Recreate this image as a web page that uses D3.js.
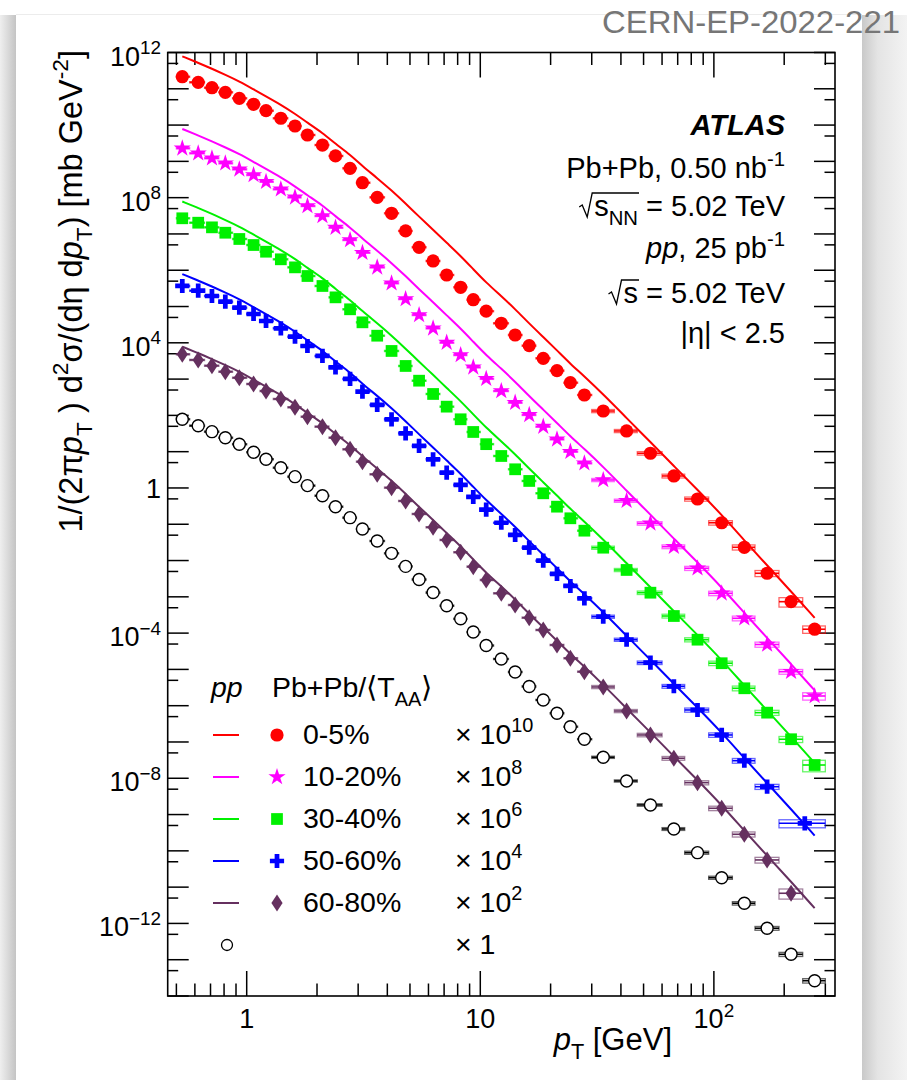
<!DOCTYPE html>
<meta charset="utf-8">

<!-- Load d3.js -->
<script src="https://d3js.org/d3.v7.min.js"></script>

<style>
  body { margin: 0; background: #ffffff; }
  svg { display: block; }
  text { font-family: "Liberation Sans", Arial, Helvetica, sans-serif; white-space: pre; }
</style>

<!-- Create a div where the graph will take place -->
<div id="my_dataviz"></div>

<script>

// pT bin centres and bin edges [GeV]
var ptCenters = [0.53, 0.62, 0.71, 0.81, 0.93, 1.07, 1.21, 1.40, 1.61, 1.82,
                 2.11, 2.40, 2.77, 3.13, 3.62, 4.17, 4.79, 5.47, 6.28, 7.18,
                 8.24, 9.33, 10.6, 12.3, 14.1, 16.2, 18.6, 21.3, 24.3, 27.9,
                 33.6, 42.3, 53.5, 67.4, 85.1, 108, 135, 169, 214, 270];
var binEdges = [0.5, 0.57, 0.66, 0.76, 0.87, 1.0, 1.14, 1.3, 1.5, 1.71,
                1.96, 2.25, 2.58, 2.95, 3.37, 3.89, 4.47, 5.11, 5.86, 6.72,
                7.7, 8.77, 10, 11.4, 13.2, 15.1, 17.3, 19.9, 22.8, 26.1,
                30, 37.5, 47, 60, 75, 95, 120, 150, 190, 240, 300];

// pp cross section [mb GeV^-2]
var ppXsec = [78.2, 52.0, 35.6, 24.3, 16.0, 9.62, 6.17, 3.62, 2.05, 1.16,
              0.612, 0.305, 0.152, 0.0741, 0.0346, 0.0158, 6.9e-3, 3.0e-3, 1.31e-3, 5.7e-4,
              2.48e-4, 1.07e-4, 4.56e-5, 1.94e-5, 8.49e-6, 3.39e-6, 1.44e-6, 6.18e-7, 2.64e-7, 1.19e-7,
              3.79e-8, 8.43e-9, 1.84e-9, 4.01e-10, 8.91e-11, 1.82e-11, 3.59e-12, 7.36e-13, 1.41e-13, 2.64e-14];

// Pb+Pb yields / <TAA>, unscaled [mb GeV^-2]
var pbpb0_5 = [21.5, 15.1, 10.7, 8.0, 5.47, 3.74, 2.49, 1.54, 0.944, 0.533,
               0.282, 0.141, 0.0644, 0.0258, 0.0102, 3.71e-3, 1.21e-3, 4.29e-4, 1.80e-4, 7.40e-5,
               3.39e-5, 1.54e-5, 7.43e-6, 3.45e-6, 1.64e-6, 8.34e-7, 3.74e-7, 1.71e-7, 7.96e-8, 3.65e-8,
               1.32e-8, 3.72e-9, 9.04e-10, 2.14e-10, 4.97e-11, 1.10e-11, 2.32e-12, 4.46e-13, 7.35e-14, 1.28e-14];
var pbpb10_20 = [22.9, 16.7, 12.2, 8.85, 6.04, 4.21, 2.75, 1.70, 1.02, 0.589,
                 0.313, 0.149, 0.0681, 0.0304, 0.0120, 4.37e-3, 1.61e-3, 5.84e-4, 2.51e-4, 1.01e-4,
                 4.61e-5, 2.11e-5, 1.02e-5, 4.70e-6, 2.24e-6, 1.03e-6, 4.89e-7, 2.19e-7, 1.00e-7, 4.79e-8,
                 1.66e-8, 4.46e-9, 1.06e-9, 2.41e-10, 6.12e-11, 1.25e-11, 2.56e-12, 4.86e-13, 8.65e-14, 1.85e-14];
var pbpb30_40 = [27.0, 20.4, 15.2, 10.8, 7.26, 4.95, 3.24, 2.00, 1.20, 0.693,
                 0.368, 0.179, 0.0839, 0.0367, 0.0157, 5.96e-3, 2.30e-3, 9.04e-4, 3.89e-4, 1.74e-4,
                 7.81e-5, 3.49e-5, 1.61e-5, 7.60e-6, 3.27e-6, 1.56e-6, 7.13e-7, 3.05e-7, 1.46e-7, 6.65e-8,
                 2.26e-8, 5.50e-9, 1.30e-9, 2.96e-10, 6.59e-11, 1.48e-11, 3.02e-12, 6.43e-13, 1.19e-13, 2.32e-14];
var pbpb50_60 = [36.8, 27.3, 19.5, 13.6, 9.29, 6.22, 3.99, 2.51, 1.47, 0.817,
                 0.434, 0.211, 0.101, 0.0450, 0.0194, 7.81e-3, 3.21e-3, 1.44e-3, 6.17e-4, 2.64e-4,
                 1.21e-4, 5.64e-5, 2.52e-5, 1.10e-5, 5.06e-6, 2.26e-6, 9.91e-7, 4.27e-7, 1.99e-7, 9.12e-8,
                 2.84e-8, 6.59e-9, 1.53e-9, 3.43e-10, 7.62e-11, 1.56e-11, 3.05e-12, 5.86e-13, 5.75e-14];
var pbpb60_80 = [48.3, 33.7, 23.4, 16.0, 10.9, 7.33, 4.70, 2.83, 1.67, 0.920,
                 0.489, 0.243, 0.116, 0.0530, 0.0238, 0.0102, 4.38e-3, 1.92e-3, 8.26e-4, 3.69e-4,
                 1.69e-4, 6.78e-5, 2.91e-5, 1.25e-5, 5.96e-6, 2.66e-6, 1.22e-6, 4.71e-7, 2.03e-7, 8.65e-8,
                 3.28e-8, 7.14e-9, 1.56e-9, 3.56e-10, 7.57e-11, 1.49e-11, 2.86e-12, 5.61e-13, 6.78e-14];

// the 50-60% class has the two last bins merged
var mergedLastBin = {pt: 245, lo: 190, hi: 300};

// relative systematic uncertainties (box heights), low pT and bins above 30 GeV
var sysLowPt = 0.04;
var sysPP      = [0.07, 0.07, 0.08, 0.09, 0.1, 0.1, 0.11, 0.12, 0.13, 0.14];
var sys0_5     = [0.1, 0.1, 0.11, 0.12, 0.13, 0.14, 0.16, 0.19, 0.29, 0.23];
var sys10_20   = [0.1, 0.1, 0.11, 0.12, 0.13, 0.14, 0.15, 0.16, 0.15, 0.23];
var sys30_40   = [0.1, 0.1, 0.11, 0.12, 0.13, 0.14, 0.15, 0.16, 0.19, 0.35];
var sys50_60   = [0.1, 0.1, 0.11, 0.12, 0.13, 0.14, 0.15, 0.16, 0.25];
var sys60_80   = [0.1, 0.1, 0.11, 0.12, 0.13, 0.14, 0.16, 0.18, 0.31];

// centrality classes
var centLabels = ["0-5%", "10-20%", "30-40%", "50-60%", "60-80%"];
var scaleExps = [10, 8, 6, 4, 2];
var centColors = ["#ff0000", "#ff00ff", "#00f000", "#0000ff", "#65305f"];
var centMarkers = ["circle", "star", "square", "cross", "diamond"];
var centValues = [pbpb0_5, pbpb10_20, pbpb30_40, pbpb50_60, pbpb60_80];
var centSys = [sys0_5, sys10_20, sys30_40, sys50_60, sys60_80];

// axis ticks
var xMajorTicks = [1, 10, 100];
var xMinorTicks = [0.5, 0.6, 0.7, 0.8, 0.9, 2, 3, 4, 5, 6, 7, 8, 9,
                   20, 30, 40, 50, 60, 70, 80, 90, 200, 300];
var xLabelExps = [0, 1, 2];
var yLabelExps = [12, 8, 4, 0, -4, -8, -12];

// frame of the plot
var frame = {left: 167.7, right: 835, top: 52.5, bottom: 996};

var svg = d3.select("#my_dataviz")
  .append("svg")
    .attr("width", 907)
    .attr("height", 1080);

// page: white card with grey side shadows
var defs = svg.append("defs");
var gl = defs.append("linearGradient").attr("id", "shL");
gl.append("stop").attr("offset", "0").attr("stop-color", "#efefef");
gl.append("stop").attr("offset", "1").attr("stop-color", "#c4c4c4");
var gr = defs.append("linearGradient").attr("id", "shR");
gr.append("stop").attr("offset", "0").attr("stop-color", "#c9c9c9");
gr.append("stop").attr("offset", "0.35").attr("stop-color", "#e4e4e4");
gr.append("stop").attr("offset", "1").attr("stop-color", "#f3f3f3");

svg.append("rect").attr("x", 0).attr("y", 0).attr("width", 907).attr("height", 1080).attr("fill", "#ffffff");
svg.append("rect").attr("x", 0).attr("y", 15).attr("width", 16).attr("height", 1065).attr("fill", "url(#shL)");
svg.append("rect").attr("x", 862).attr("y", 15).attr("width", 45).attr("height", 1065).attr("fill", "url(#shR)");
svg.append("rect").attr("x", 16).attr("y", 14).attr("width", 846).attr("height", 1).attr("fill", "#ececec");

// scales
var x = d3.scaleLog().domain([0.459, 330]).range([frame.left, frame.right]);
var y = d3.scaleLog().domain([1e-14, 1e12]).range([frame.bottom, frame.top]);

var plot = svg.append("g");

// ticks, drawn on the four sides and pointing inwards
var yMajor = d3.range(-14, 13).map(function(e) { return Math.pow(10, e); });
var yMinor = d3.range(-14, 12).map(function(e) { return 5 * Math.pow(10, e); });

function drawTicks(vals, len, orient) {
  vals.forEach(function(v) {
    if (orient === "bottom" || orient === "top") {
      var xp = x(v), y0 = orient === "bottom" ? frame.bottom : frame.top;
      var y1 = orient === "bottom" ? y0 - len : y0 + len;
      plot.append("line").attr("x1", xp).attr("x2", xp).attr("y1", y0).attr("y2", y1)
        .attr("stroke", "#000").attr("stroke-width", 1.5);
    } else {
      var yp = y(v), x0 = orient === "left" ? frame.left : frame.right;
      var x1 = orient === "left" ? x0 + len : x0 - len;
      plot.append("line").attr("x1", x0).attr("x2", x1).attr("y1", yp).attr("y2", yp)
        .attr("stroke", "#000").attr("stroke-width", 1.5);
    }
  });
}
drawTicks(xMajorTicks, 25, "bottom");
drawTicks(xMinorTicks, 12.5, "bottom");
drawTicks(xMajorTicks, 25, "top");
drawTicks(xMinorTicks, 12.5, "top");
drawTicks(yMajor, 21, "left");
drawTicks(yMinor, 10.5, "left");
drawTicks(yMajor, 21, "right");
drawTicks(yMinor, 10.5, "right");

// helper: text made of normal / superscript / subscript / italic pieces
function addRich(sel, parts, fs) {
  var shift = 0;
  parts.forEach(function(p) {
    var t = sel.append("tspan").text(p[0]);
    var target = p[1] === "sup" ? -0.42 * fs : (p[1] === "sub" ? 0.3 * fs : 0);
    if (target !== shift) t.attr("dy", target - shift);
    shift = target;
    if (p[1] === "sup" || p[1] === "sub") t.attr("font-size", fs * 0.7);
    if (p[2]) t.attr("font-style", "italic");
  });
  return sel;
}

// tick labels
var tickFs = 27;
xLabelExps.forEach(function(e) {
  var t = svg.append("text")
    .attr("x", x(Math.pow(10, e)))
    .attr("y", 1028)
    .attr("text-anchor", "middle")
    .attr("font-size", tickFs);
  if (e === 0) t.text("1");
  else if (e === 1) t.text("10");
  else addRich(t, [["10", ""], [String(e), "sup"]], tickFs);
});
yLabelExps.forEach(function(e) {
  var t = svg.append("text")
    .attr("x", 161)
    .attr("y", y(Math.pow(10, e)) + (e === 0 ? 10 : 13))
    .attr("text-anchor", "end")
    .attr("font-size", tickFs);
  if (e === 0) t.text("1");
  else addRich(t, [["10", ""], [String(e).replace("-", "\u2212"), "sup"]], tickFs);
});

// axis titles
var xt = svg.append("text")
  .attr("x", 672).attr("y", 1050)
  .attr("text-anchor", "end")
  .attr("font-size", 31);
addRich(xt, [["p", "", true], ["T", "sub"], [" [GeV]", ""]], 31);

var yt = svg.append("text")
  .attr("transform", "translate(82,50) rotate(-90)")
  .attr("text-anchor", "end")
  .attr("font-size", 32.5);
addRich(yt, [["1/(2\u03c0", ""], ["p", "", true], ["T", "sub"], [" ) d", ""], ["2", "sup"],
             ["\u03c3/(d\u03b7 d", ""], ["p", "", true], ["T", "sub"], [") [mb GeV", ""], ["-2", "sup"], ["]", ""]], 32.5);

// marker shapes
var markerPaths = {
  circle: d3.symbol().type(d3.symbolCircle).size(Math.PI * 6.6 * 6.6)(),
  star: d3.symbol().type(d3.symbolStar).size(92)(),
  square: d3.symbol().type(d3.symbolSquare).size(138)(),
  cross: d3.symbol().type(d3.symbolCross).size(112)(),
  diamond: "M0,-8.5L5.6,0L0,8.5L-5.6,0Z"
};

// build the list of points of one series
function makePoints(vals, sysHigh, factor, lastBin) {
  return vals.map(function(v, i) {
    var p = {pt: ptCenters[i], lo: binEdges[i], hi: binEdges[i + 1], v: v * factor,
             rel: i < 30 ? sysLowPt : sysHigh[i - 30]};
    if (lastBin && i === vals.length - 1) { p.pt = lastBin.pt; p.lo = lastBin.lo; p.hi = lastBin.hi; }
    return p;
  });
}

var curve = d3.line()
  .x(function(d) { return x(d[0]); })
  .y(function(d) { return y(d[1]); })
  .curve(d3.curveBasis);

// pp reference curves scaled like each centrality class
centLabels.forEach(function(c, k) {
  var f = Math.pow(10, scaleExps[k]);
  plot.append("path")
    .datum(ppXsec.map(function(v, i) { return [ptCenters[i], v * f]; }))
    .attr("d", curve)
    .attr("fill", "none")
    .attr("stroke", centColors[k])
    .attr("stroke-width", 2);
});

function drawSeries(points, color, marker, open, r) {
  var g = plot.append("g");
  // systematic boxes
  g.selectAll(".sys").data(points).enter().append("rect")
    .attr("x", function(d) { return x(d.lo); })
    .attr("width", function(d) { return x(d.hi) - x(d.lo); })
    .attr("y", function(d) { return y(d.v * (1 + d.rel)); })
    .attr("height", function(d) { return y(d.v * (1 - d.rel)) - y(d.v * (1 + d.rel)); })
    .attr("fill", "none")
    .attr("stroke", color)
    .attr("stroke-opacity", 0.6)
    .attr("stroke-width", 1.3);
  // bin width bars
  g.selectAll(".xerr").data(points).enter().append("line")
    .attr("x1", function(d) { return x(d.lo); })
    .attr("x2", function(d) { return x(d.hi); })
    .attr("y1", function(d) { return y(d.v); })
    .attr("y2", function(d) { return y(d.v); })
    .attr("stroke", color)
    .attr("stroke-width", 1.6);
  // markers
  if (open) {
    g.selectAll(".mk").data(points).enter().append("circle")
      .attr("cx", function(d) { return x(d.pt); })
      .attr("cy", function(d) { return y(d.v); })
      .attr("r", r)
      .attr("fill", "#fff")
      .attr("stroke", "#000")
      .attr("stroke-width", 1.4);
  } else {
    g.selectAll(".mk").data(points).enter().append("path")
      .attr("d", markerPaths[marker])
      .attr("transform", function(d) { return "translate(" + x(d.pt) + "," + y(d.v) + ")"; })
      .attr("fill", color);
  }
}

// pp points (x 1)
drawSeries(makePoints(ppXsec, sysPP, 1, null), "#000", "circle", true, 6);

// Pb+Pb points
centLabels.forEach(function(c, k) {
  var pts = makePoints(centValues[k], centSys[k], Math.pow(10, scaleExps[k]), k === 3 ? mergedLastBin : null);
  drawSeries(pts, centColors[k], centMarkers[k], false);
});

// frame
svg.append("rect")
  .attr("x", frame.left).attr("y", frame.top)
  .attr("width", frame.right - frame.left).attr("height", frame.bottom - frame.top)
  .attr("fill", "none").attr("stroke", "#000").attr("stroke-width", 1.6);

// ATLAS label block
var labFs = 29, labX = 785;
svg.append("text").attr("x", labX).attr("y", 135).attr("text-anchor", "end")
  .attr("font-size", labFs).attr("font-weight", "bold").attr("font-style", "italic").text("ATLAS");
addRich(svg.append("text").attr("x", labX).attr("y", 178).attr("text-anchor", "end").attr("font-size", labFs),
  [["Pb+Pb, 0.50 nb", ""], ["-1", "sup"]], labFs);
var sNN = addRich(svg.append("text").attr("x", labX).attr("y", 216).attr("text-anchor", "end").attr("font-size", labFs),
  [["s", ""], ["NN", "sub"], [" = 5.02 TeV", ""]], labFs);
addRich(svg.append("text").attr("x", labX).attr("y", 258).attr("text-anchor", "end").attr("font-size", labFs),
  [["pp", "", true], [", 25 pb", ""], ["-1", "sup"]], labFs);
var s = svg.append("text").attr("x", labX).attr("y", 303).attr("text-anchor", "end").attr("font-size", labFs)
  .text("s = 5.02 TeV");
svg.append("text").attr("x", labX).attr("y", 343).attr("text-anchor", "end").attr("font-size", labFs)
  .text("|\u03b7| < 2.5");

// square root signs
function radical(textSel, lastChar, base) {
  var n = textSel.node();
  var sx = n.getStartPositionOfChar(0).x;
  var ex = n.getEndPositionOfChar(lastChar).x;
  var top = base - 23;
  svg.append("path")
    .attr("d", "M" + (sx - 15) + "," + (base - 9) + "L" + (sx - 12) + "," + (base - 11) +
               "L" + (sx - 7) + "," + (base + 1) + "L" + (sx - 2) + "," + top + "L" + (ex + 1) + "," + top)
    .attr("fill", "none").attr("stroke", "#000").attr("stroke-width", 1.3);
}
radical(sNN, 2, 216);
radical(s, 0, 303);

// legend
var legFs = 28.5;
svg.append("text").attr("x", 211).attr("y", 697).attr("font-size", legFs)
  .attr("font-style", "italic").text("pp");
addRich(svg.append("text").attr("x", 272).attr("y", 697).attr("font-size", legFs),
  [["Pb+Pb/\u27e8T", ""], ["AA", "sub"], ["\u27e9", ""]], legFs);

var legTop = 744, legStep = 42;
centLabels.forEach(function(c, k) {
  var b = legTop + k * legStep, cy = b - 9;
  svg.append("line").attr("x1", 213).attr("x2", 239).attr("y1", cy).attr("y2", cy)
    .attr("stroke", centColors[k]).attr("stroke-width", 2);
  svg.append("path").attr("d", markerPaths[centMarkers[k]])
    .attr("transform", "translate(277," + cy + ")")
    .attr("fill", centColors[k]);
  svg.append("text").attr("x", 303).attr("y", b).attr("font-size", legFs).text(c);
  addRich(svg.append("text").attr("x", 455).attr("y", b).attr("font-size", legFs),
    [["\u00d7 10", ""], [String(scaleExps[k]), "sup"]], legFs);
});
var bpp = legTop + 5 * legStep;
svg.append("circle").attr("cx", 227).attr("cy", bpp - 9).attr("r", 5.5)
  .attr("fill", "#fff").attr("stroke", "#000").attr("stroke-width", 1.3);
svg.append("text").attr("x", 455).attr("y", bpp).attr("font-size", legFs).text("\u00d7 1");

// document number
svg.append("text").attr("x", 900).attr("y", 33).attr("text-anchor", "end")
  .attr("font-family", "Lato, 'Open Sans', sans-serif")
  .attr("font-weight", 300).attr("font-size", 32).attr("fill", "#767676")
  .attr("textLength", 298).attr("lengthAdjust", "spacingAndGlyphs")
  .text("CERN-EP-2022-221");

</script>
